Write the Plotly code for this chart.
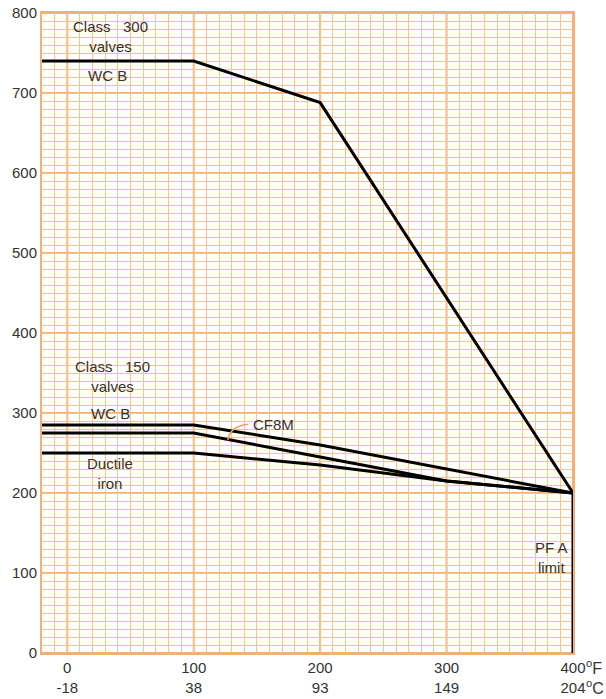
import plotly.graph_objects as go

# Temperatures (deg F) and pressures (psig)
c300_wcb_t = [-20, 100, 200, 400]
c300_wcb_p = [740, 740, 688, 200]

c150_wcb_t = [-20, 100, 200, 300, 400]
c150_wcb_p = [285, 285, 260, 230, 200]

cf8m_t = [-20, 100, 200, 300, 400]
cf8m_p = [275, 275, 245, 215, 200]

ductile_t = [-20, 100, 200, 300, 400]
ductile_p = [250, 250, 235, 215, 200]

pfa_t = [400, 400]
pfa_p = [200, 0]

x_tickvals = [0, 100, 200, 300, 400]
x_tick_f = ["0", "100", "200", "300", "400"]
x_tick_c = ["-18", "38", "93", "149", "204"]
y_tickvals = [0, 100, 200, 300, 400, 500, 600, 700, 800]

X_MIN, X_MAX = -20, 400
Y_MIN, Y_MAX = 0, 800
GRID_STEP = 10

FONT = "Liberation Sans"
TXT = "#333333"
MINOR = "#f9c48c"
MAJOR = "#f5b070"

# minor grid positions every 10 units, labels only on the major ticks
x_grid = list(range(X_MIN, X_MAX + 1, GRID_STEP))
y_grid = list(range(Y_MIN, Y_MAX + 1, GRID_STEP))
x_lab = {v: f + "<br>" + c for v, f, c in zip(x_tickvals, x_tick_f, x_tick_c)}
y_lab = {v: str(v) for v in y_tickvals}

fig = go.Figure()
for t, p in [(c300_wcb_t, c300_wcb_p), (c150_wcb_t, c150_wcb_p),
             (cf8m_t, cf8m_p), (ductile_t, ductile_p), (pfa_t, pfa_p)]:
    fig.add_trace(go.Scatter(x=t, y=p, mode="lines",
                             line=dict(color="black", width=3),
                             hoverinfo="skip", showlegend=False))

# major grid lines
for v in x_tickvals:
    fig.add_shape(type="line", x0=v, x1=v, y0=0, y1=1, xref="x", yref="paper",
                  layer="below", line=dict(color=MAJOR, width=2))
for v in y_tickvals:
    fig.add_shape(type="line", y0=v, y1=v, x0=0, x1=1, yref="y", xref="paper",
                  layer="below", line=dict(color=MAJOR, width=2))

def ann(x, y, text, xanchor="center"):
    fig.add_annotation(x=x, y=y, text=text, showarrow=False, xanchor=xanchor,
                       font=dict(family=FONT, size=15, color=TXT))

ann(34, 771, "Class\u00a0\u00a0 300<br>valves")
ann(32, 722, "WC B")
ann(36, 346, "Class\u00a0\u00a0 150<br>valves")
ann(34, 300, "WC B")
ann(145, 286, "CF8M", xanchor="left")
ann(34, 224, "Ductile<br>iron")
ann(398, 120, "PF A<br>limit", xanchor="right")

# leader for CF8M label
fig.add_shape(type="path", path="M 127,266 Q 128,283 143,286",
              line=dict(color="#f0a050", width=1.5))

# unit labels
fig.add_annotation(xref="paper", yref="paper", x=1.02, y=-0.003, yanchor="top",
                   xanchor="left", text="<sup>o</sup>F", showarrow=False,
                   font=dict(family=FONT, size=16, color=TXT))
fig.add_annotation(xref="paper", yref="paper", x=1.02, y=-0.034, yanchor="top",
                   xanchor="left", text="<sup>o</sup>C", showarrow=False,
                   font=dict(family=FONT, size=16, color=TXT))

fig.update_layout(
    width=606, height=699,
    margin=dict(l=42, r=33, t=13, b=46, autoexpand=False),
    paper_bgcolor="white", plot_bgcolor="white",
    font=dict(family=FONT, size=15, color=TXT),
    xaxis=dict(range=[X_MIN, X_MAX], tickmode="array", tickvals=x_grid,
               ticktext=[x_lab.get(v, "") for v in x_grid],
               showgrid=True, gridcolor=MINOR, gridwidth=1, automargin=False,
               zeroline=False, showline=True, linecolor=MAJOR, linewidth=2,
               mirror=True, ticks=""),
    yaxis=dict(range=[Y_MIN, Y_MAX], tickmode="array", tickvals=y_grid,
               ticktext=[y_lab.get(v, "") for v in y_grid],
               showgrid=True, gridcolor=MINOR, gridwidth=1, automargin=False,
               zeroline=False, showline=True, linecolor=MAJOR, linewidth=2,
               mirror=True, ticks=""),
)

fig.write_html(
    "out.html",
    config={"displayModeBar": False},
    post_script="document.body.style.margin='0';document.body.style.overflow='hidden';",
)
